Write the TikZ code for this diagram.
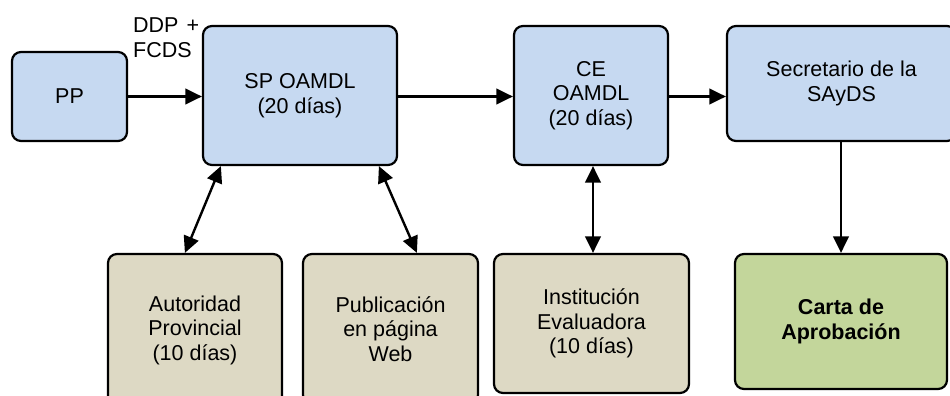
\documentclass[tikz,border=0pt]{standalone}
\usepackage{fontspec}
\setmainfont{Liberation Sans}
\usetikzlibrary{arrows.meta,calc}
\definecolor{boxblue}{HTML}{C6D9F1}
\definecolor{boxtan}{HTML}{DDD9C4}
\definecolor{boxgreen}{HTML}{C3D69B}
\newcommand{\boxfont}{\fontsize{21.5}{24.5}\selectfont}
\tikzset{
  stage/.style={draw=black, line width=2.2pt, rounded corners=9pt, align=center,
    inner sep=0pt, font=\boxfont},
  bluebox/.style={stage, fill=boxblue},
  tanbox/.style={stage, fill=boxtan},
  greenbox/.style={stage, fill=boxgreen},
  flow/.style={line width=2.4pt, -{Triangle[length=16.5pt,width=15.5pt]}},
  twoway/.style={line width=2.4pt, {Triangle[length=16.5pt,width=15.5pt]}-{Triangle[length=16.5pt,width=15.5pt]}},
}
\begin{document}
\begin{tikzpicture}[x=1pt, y=-1pt]
\useasboundingbox (0,0) rectangle (950,396);
\fill[white] (0,0) rectangle (950,396);
\begin{scope}
\clip (0,0) rectangle (950,396);

% top row
\node[bluebox, minimum width=115pt, minimum height=89pt] (pp) at (69.5,96.5) {PP};
\node[bluebox, minimum width=194pt, minimum height=139pt] (sp) at (300,95.5) {SP OAMDL\\(20 días)};
\node[bluebox, minimum width=154pt, minimum height=139pt] (ce) at (591,95.5) {CE\\OAMDL\\(20 días)};
\node[bluebox, minimum width=229pt, minimum height=115pt] (sec) at (841.5,83.5) {Secretario de la\\SAyDS};

% bottom row
\node[tanbox, minimum width=174pt, minimum height=152pt] (aut) at (195,330) {Autoridad\\Provincial\\(10 días)};
\node[tanbox, minimum width=175pt, minimum height=150pt] (pub) at (390.5,329) {Publicación\\en página\\Web};
\node[tanbox, minimum width=195pt, minimum height=139pt] (inst) at (591.5,323.5) {Institución\\Evaluadora\\(10 días)};
\node[greenbox, minimum width=212pt, minimum height=135pt, font=\boxfont\bfseries] (carta) at (841,321.5) {Carta de\\Aprobación};

% input label
\node[anchor=north west, inner sep=0pt, align=left, font=\boxfont] (ddp) at (133,18) {DDP\hspace{8pt}+\\FCDS};

% endpoints of the slanted links
\coordinate (spA) at ($(sp.south west)+(19,0)$);
\coordinate (autA) at ($(aut.north west)+(78,0)$);
\coordinate (spB) at ($(sp.south west)+(177,0)$);
\coordinate (pubB) at ($(pub.north west)+(115,0)$);

% connectors
\draw[flow] (pp.east) -- (pp.east -| sp.west);
\draw[flow] (sp.east |- pp.east) -- (ce.west |- pp.east);
\draw[flow] (ce.east |- pp.east) -- (sec.west |- pp.east);
\draw[flow] (sec.south -| carta.north) -- (carta.north);
\draw[twoway] (ce.south -| 593,0) -- (inst.north -| 593,0);
\draw[twoway] (spA) -- (autA);
\draw[twoway] (spB) -- (pubB);
\end{scope}
\end{tikzpicture}
\end{document}
